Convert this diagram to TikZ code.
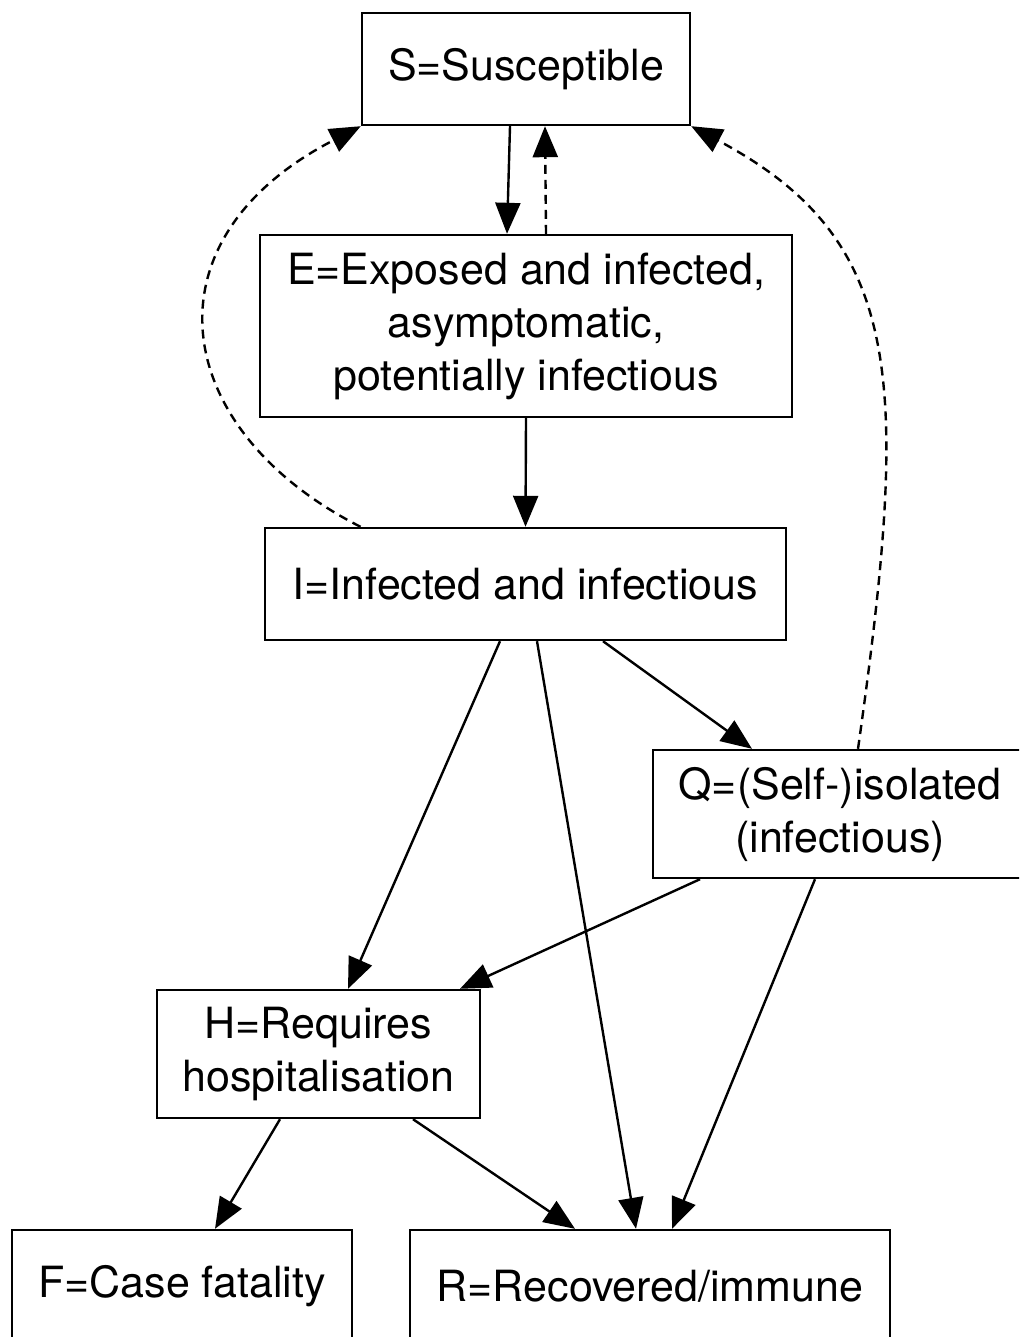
\documentclass[tikz,border=0pt]{standalone}
\usepackage{fontspec}
\setmainfont{TeX Gyre Heros}
\usetikzlibrary{arrows.meta}

\begin{document}
\begin{tikzpicture}[
    x=1pt,y=-1pt,
    cbox/.style={draw,line width=2.4pt,align=center,inner sep=0pt,font=\fontsize{43}{53}\selectfont},
    flow/.style={line width=2.4pt,-{Triangle[length=31pt,width=25pt]}},
    back/.style={flow,dash pattern=on 9pt off 6pt}
  ]
  \fill[white] (0,0) rectangle (1019,1337);
  \useasboundingbox (0,0) rectangle (1019,1337);
  \clip (0,0) rectangle (1019,1337);

  % Compartments
  \node[cbox,minimum width=328pt,minimum height=112pt] (S) at (526,69) {S=Susceptible};
  \node[cbox,minimum width=532pt,minimum height=182pt] (E) at (526,326) {E=Exposed and infected,\\asymptomatic,\\potentially infectious};
  \node[cbox,minimum width=521pt,minimum height=112pt] (I) at (525.5,584) {I=Infected and infectious};
  \node[cbox,minimum width=374pt,minimum height=128pt] (Q) at (840,814) {Q=(Self-)isolated\\(infectious)};
  \node[cbox,minimum width=323pt,minimum height=128pt] (H) at (318.5,1054) {H=Requires\\hospitalisation};
  \node[cbox,minimum width=340pt,minimum height=112pt] (F) at (182,1286) {F=Case fatality};
  \node[cbox,minimum width=480pt,minimum height=112pt] (R) at (650,1286) {R=Recovered/immune};

  % Transitions
  \draw[flow] ([xshift=-16pt]S.south) -- ([xshift=-19pt]E.north);
  \draw[back] ([xshift=20pt]E.north) -- ([xshift=19pt]S.south);
  \draw[flow] (E.south) -- (I.north);
  \draw[back] ([xshift=-165pt]I.north) .. controls (170,430) and (140,240) .. (S.south west);
  \draw[back] ([xshift=18pt]Q.north) .. controls (910,380) and (905,240) .. (S.south east);
  \draw[flow] ([xshift=77.5pt]I.south) -- ([xshift=-88pt]Q.north);
  \draw[flow] ([xshift=-25.5pt]I.south) -- ([xshift=29.5pt]H.north);
  \draw[flow] ([xshift=11.5pt]I.south) -- ([xshift=-14pt]R.north);
  \draw[flow] ([xshift=-140pt]Q.south) -- ([xshift=141.5pt]H.north);
  \draw[flow] ([xshift=-25pt]Q.south) -- ([xshift=22pt]R.north);
  \draw[flow] ([xshift=-38.5pt]H.south) -- ([xshift=33pt]F.north);
  \draw[flow] ([xshift=94.5pt]H.south) -- ([xshift=-75pt]R.north);
\end{tikzpicture}
\end{document}
